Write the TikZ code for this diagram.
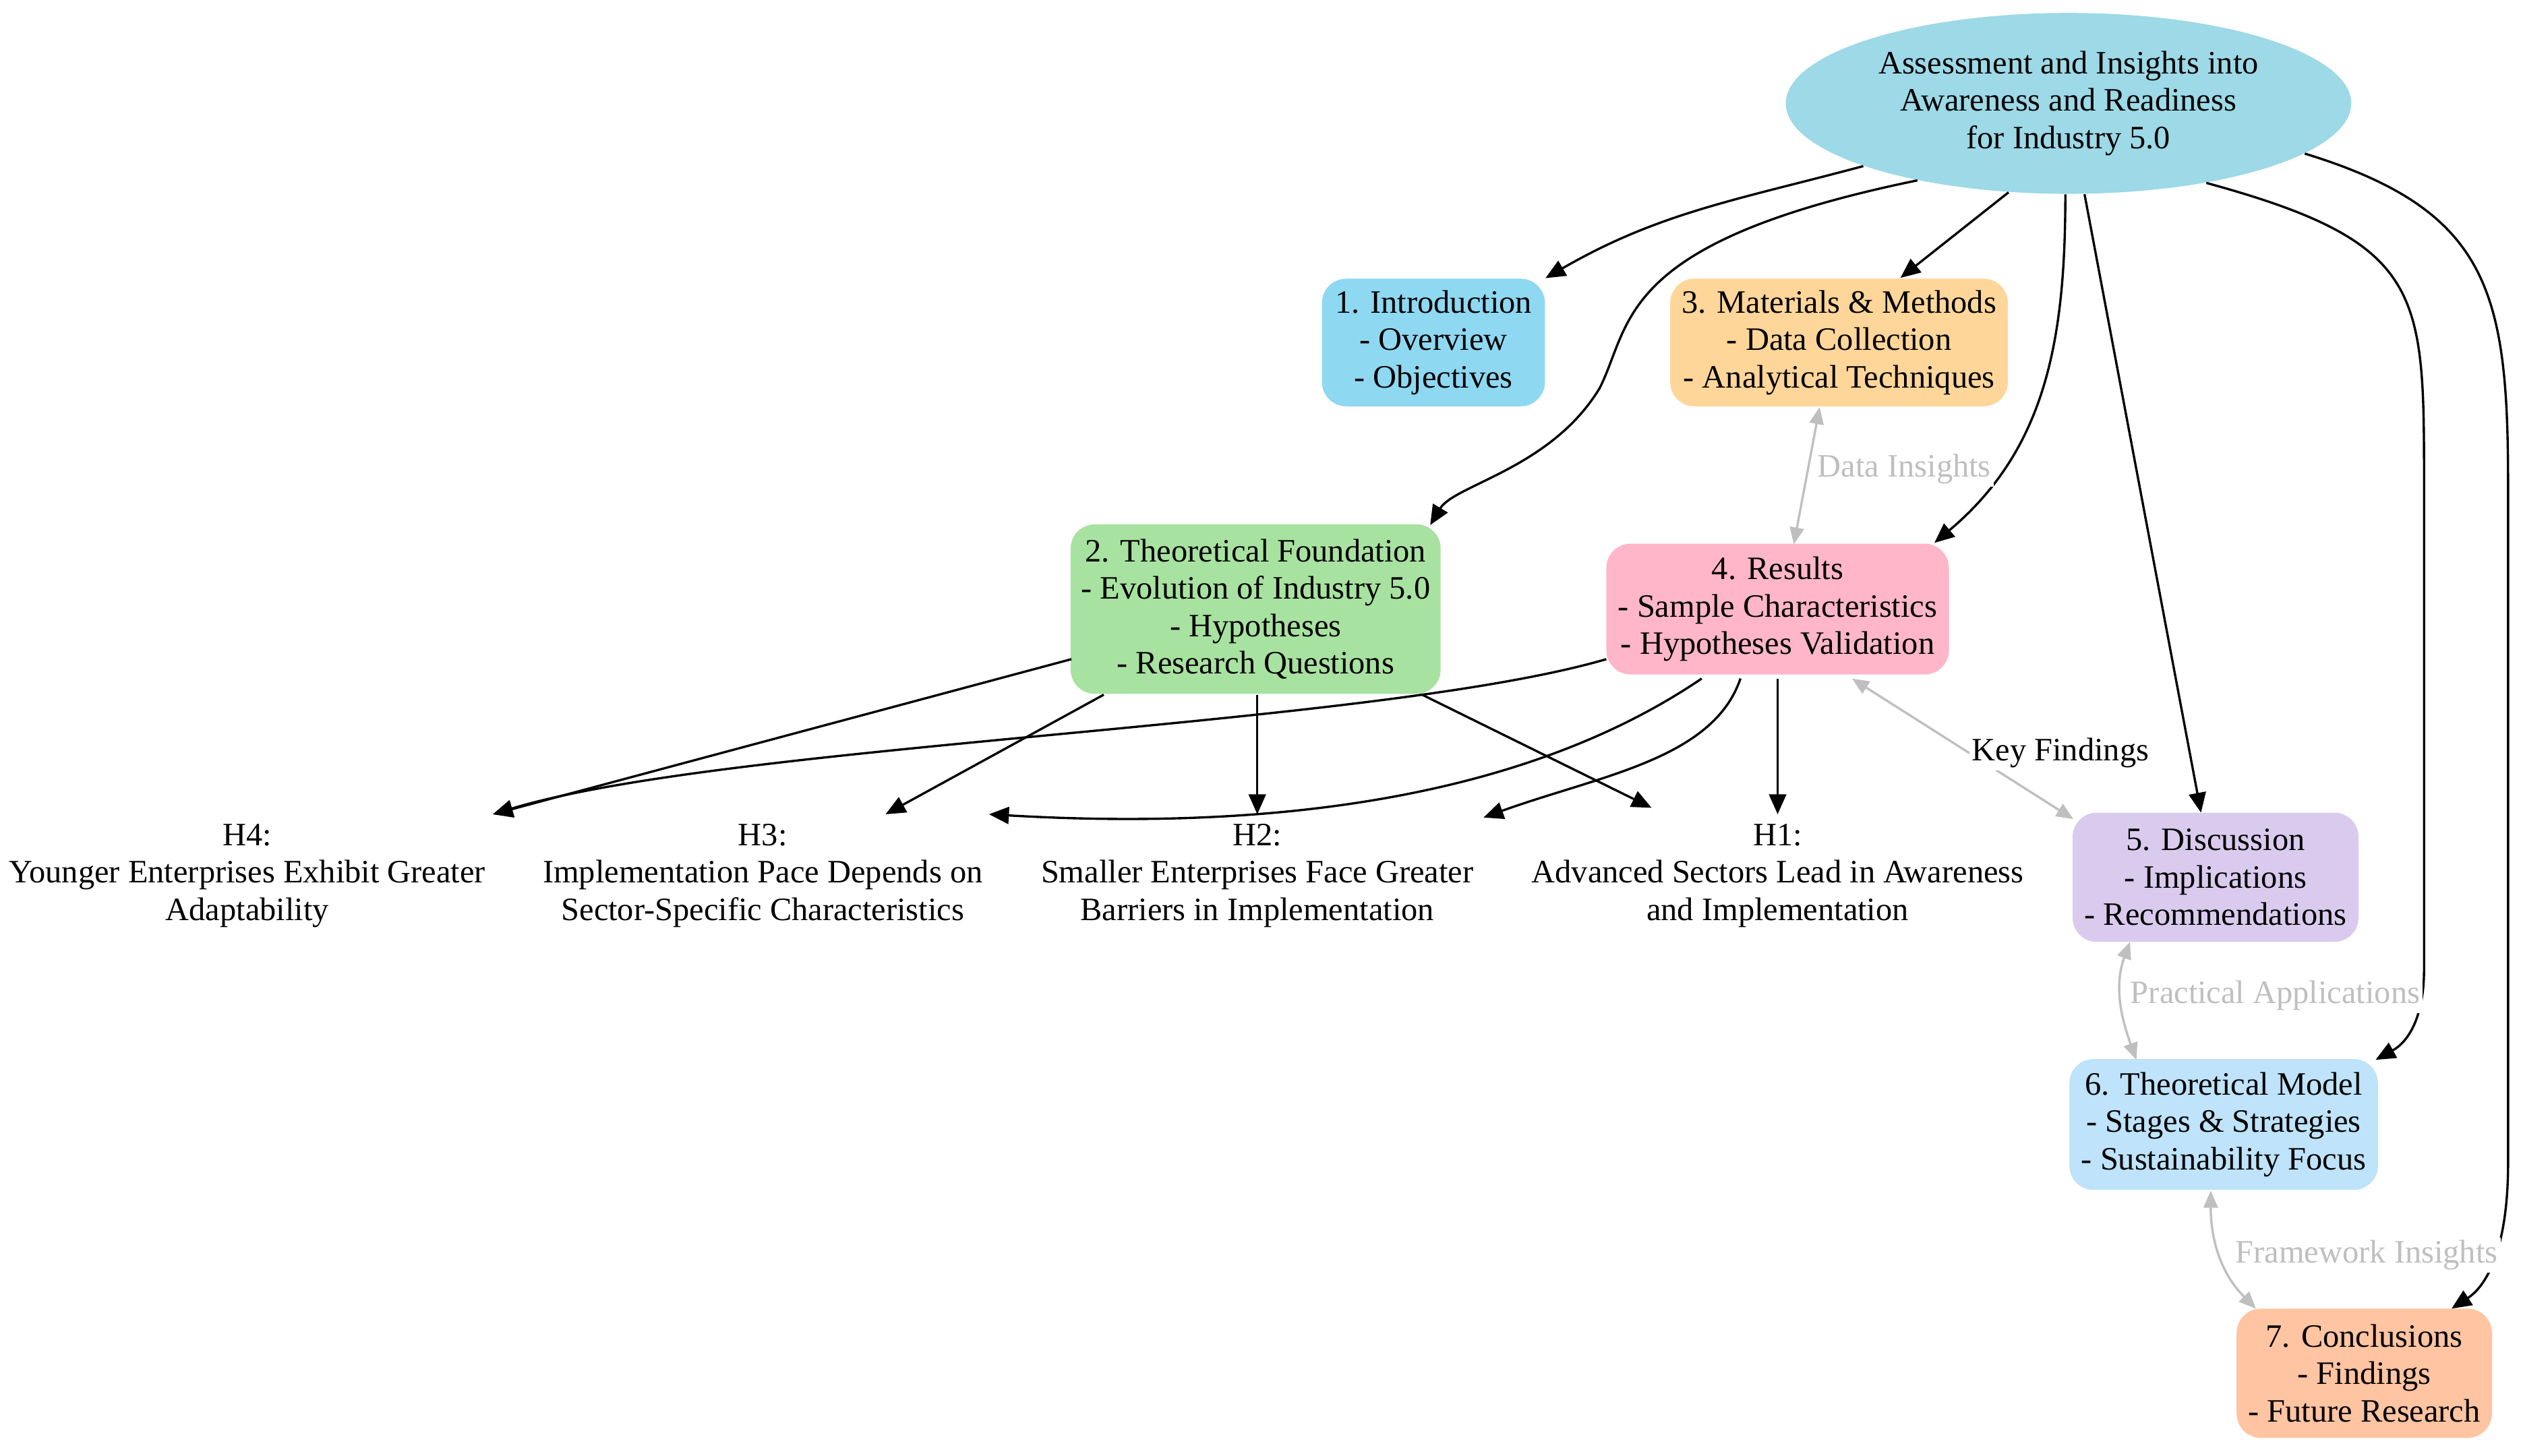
\documentclass[tikz,border=0pt]{standalone}
\usepackage{fontspec}
\setmainfont{Liberation Serif}
\usetikzlibrary{arrows.meta,shapes.geometric}
\definecolor{cRoot}{HTML}{9DD9E6}
\definecolor{cIntro}{HTML}{8FD8F2}
\definecolor{cMM}{HTML}{FFD699}
\definecolor{cTF}{HTML}{A8E2A0}
\definecolor{cRes}{HTML}{FFB6C8}
\definecolor{cDisc}{HTML}{DACBEE}
\definecolor{cTM}{HTML}{BEE3FA}
\definecolor{cConc}{HTML}{FFC4A2}
\begin{document}
\begin{tikzpicture}[x=0.02cm,y=-0.02cm,
  font=\fontsize{11.5}{13.2}\selectfont,
  box/.style={draw=none,rounded corners=0.3cm,align=center,inner sep=0pt},
  hyp/.style={align=center,inner sep=1pt},
  arr/.style={-{Triangle[length=7pt,width=6pt]},line width=0.8pt,black},
  garr/.style={{Triangle[length=6pt,width=5pt]}-{Triangle[length=6pt,width=5pt]},line width=0.8pt,black!25},
  lbl/.style={fill=white,inner sep=1pt}]
\useasboundingbox (0,0) rectangle (1560,901);
\node[ellipse,fill=cRoot,minimum width=7cm,minimum height=2.24cm,align=center,inner sep=0pt] (root) at (1280,64) {Assessment and Insights into\\Awareness and Readiness\\for Industry 5.0};
\node[box,fill=cIntro,minimum width=2.76cm,minimum height=1.58cm] (intro) at (887,212) {1. Introduction\\- Overview\\- Objectives};
\node[box,fill=cMM,minimum width=4.18cm,minimum height=1.58cm] (mm) at (1138,212) {3. Materials \& Methods\\- Data Collection\\- Analytical Techniques};
\node[box,fill=cTF,minimum width=4.58cm,minimum height=2.1cm] (tf) at (777,377) {2. Theoretical Foundation\\- Evolution of Industry 5.0\\- Hypotheses\\- Research Questions};
\node[box,fill=cRes,minimum width=4.24cm,minimum height=1.62cm] (res) at (1100,377) {4. Results\\- Sample Characteristics\\- Hypotheses Validation};
\node[box,fill=cDisc,minimum width=3.54cm,minimum height=1.6cm] (disc) at (1371,543) {5. Discussion\\- Implications\\- Recommendations};
\node[box,fill=cTM,minimum width=3.82cm,minimum height=1.62cm] (tm) at (1376,696) {6. Theoretical Model\\- Stages \& Strategies\\- Sustainability Focus};
\node[box,fill=cConc,minimum width=3.16cm,minimum height=1.6cm] (conc) at (1463,850) {7. Conclusions\\- Findings\\- Future Research};
\node[hyp] (h4) at (153,542) {H4:\\Younger Enterprises Exhibit Greater\\Adaptability};
\node[hyp] (h3) at (472,542) {H3:\\Implementation Pace Depends on\\Sector-Specific Characteristics};
\node[hyp] (h2) at (778,542) {H2:\\Smaller Enterprises Face Greater\\Barriers in Implementation};
\node[hyp] (h1) at (1100,542) {H1:\\Advanced Sectors Lead in Awareness\\and Implementation};
\coordinate (h4t) at (305,504);
\coordinate (h3t) at (548,504);
\coordinate (h3u) at (612,504);
\coordinate (h2t) at (778,504);
\coordinate (h2u) at (918,506);
\coordinate (h1t) at (1022,500);
\coordinate (h1u) at (1100,504);
% root edges
\draw[arr] (root.197) to[out=195,in=30] (intro.north east);
\draw[arr] (root.236) -- (1176,172);
\draw[arr] (root.207) .. controls (1000,150) and (1010,200) .. (990,240) .. controls (960,290) and (900,300) .. (885,325);
\draw[arr] (root.268) to[out=270,in=40] (1197,336);
\draw[arr] (root.280) -- (1362,503);
\draw[arr] (root.330) .. controls (1500,150) and (1500,180) .. (1500,300) -- (1500,600) .. controls (1500,630) and (1490,645) .. (1470,656);
\draw[arr] (root.348) .. controls (1540,130) and (1552,180) .. (1552,300) -- (1552,720) .. controls (1552,770) and (1540,795) .. (1517,810);
% grey bidirectional
\draw[garr] (1126,252) -- node[lbl,right=2pt,pos=0.45] {Data Insights} (1110,337);
\draw[garr] (1146,420) -- (1283,507);
\node[lbl] (kf) at (1275,466) {Key Findings};
\draw[garr] (1318,583) to[out=250,in=110] node[lbl,right=2pt,pos=0.45] {Practical Applications} (1322,656);
\draw[garr] (1368,737) to[out=270,in=135] node[lbl,right=4pt,pos=0.5] {Framework Insights} (1396,810);
% theoretical foundation to hypotheses
\draw[arr] (663,408) -- (h4t);
\draw[arr] (683,430) -- (h3t);
\draw[arr] (778,430) -- (h2t);
\draw[arr] (880,430) -- (h1t);
% results to hypotheses
\draw[arr] (994,408) .. controls (850,450) and (450,460) .. (h4t);
\draw[arr] (1053,420) .. controls (950,490) and (800,515) .. (h3u);
\draw[arr] (1077,420) .. controls (1060,470) and (990,480) .. (h2u);
\draw[arr] (1100,420) -- (h1u);
\end{tikzpicture}
\end{document}
